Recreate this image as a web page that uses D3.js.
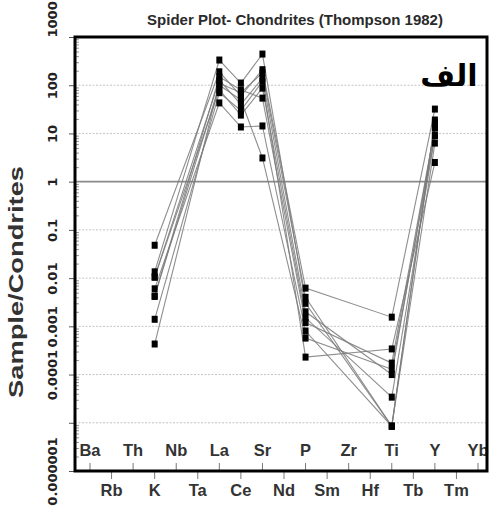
<!DOCTYPE html>
<html>
<head>
<meta charset="utf-8">
<script src="https://cdn.jsdelivr.net/npm/d3@7"></script>
<style>
  html, body { margin: 0; padding: 0; background: #fff; }
  svg { display: block; }
</style>
</head>
<body>
<svg id="chart" width="490" height="513"></svg>
<script>
// ---- data ----
const elements = ["Ba","Rb","Th","K","Nb","Ta","La","Ce","Sr","Nd","P","Sm","Zr","Hf","Ti","Tb","Y","Tm","Yb"];
const plotted  = ["K","La","Ce","Sr","P","Ti","Y"];
const sample1 = [0.048,   190, 60,   210, 0.0062,  0.00155,   32];
const sample2 = [0.0135,  333, 111,  443, 0.003,   0.0000085, 19];
const sample3 = [0.0105,  128, 40,   140, 0.002,   0.0001,    13];
const sample4 = [0.0105,  80,  24,   87,  0.0015,  0.000034,  9];
const sample5 = [0.006,   43,  13.6, 14.3,0.0008,  0.0000085, 6.3];
const sample6 = [0.0042,  150, 80,   54,  0.0012,  0.000173,  13];
const sample7 = [0.0042,  100, 50,   3.1, 0.00057, 0.000129,  9];
const sample8 = [0.0014,  70,  30,   120, 0.00023, 0.00034,   2.5];
const sample9 = [0.00043, 110, 70,   180, 0.004,   0.0000085, 17];
const samples = [sample1, sample2, sample3, sample4, sample5, sample6, sample7, sample8, sample9];
const yTickValues = [1000, 100, 10, 1, 0.1, 0.01, 0.001, 0.0001, 0.00001, 0.000001];
const yTickLabels = ["1000","100","10","1","0.1","0.01","0.001","0.0001","","0.000001"];
const titleText = "Spider Plot- Chondrites (Thompson 1982)";
const yTitle = "Sample/Condrites";
const panelLabel = "الف";

// ---- layout ----
const L = 75, R = 487, T = 37, B = 471;
const svg = d3.select("#chart");
const y = d3.scaleLog().domain([1e-6, 1000]).range([B, T]);
const x = d3.scalePoint().domain(elements).range([90, 478]);
const narrow = "'Liberation Sans Narrow', 'Arial Narrow', 'Liberation Sans', Arial, sans-serif";

// gridlines
svg.append("g").selectAll("line")
  .data(yTickValues.filter(v => v !== 1 && v !== 1000 && v !== 1e-6))
  .join("line")
  .attr("x1", L).attr("x2", R)
  .attr("y1", d => y(d)).attr("y2", d => y(d))
  .attr("stroke", "#c4c4c4").attr("stroke-width", 1)
  .attr("stroke-dasharray", "2,1.5");
svg.append("line")
  .attr("x1", L).attr("x2", R).attr("y1", y(1)).attr("y2", y(1))
  .attr("stroke", "#8a8a8a").attr("stroke-width", 1.6);

// minor ticks (inside)
const minor = [];
for (let e = -6; e < 3; e++) for (let m = 2; m <= 9; m++) minor.push(m * Math.pow(10, e));
svg.append("g").attr("transform", `translate(${L},0)`)
  .call(d3.axisRight(y).tickValues(minor).tickSize(4).tickFormat(""))
  .call(g => g.select(".domain").remove())
  .call(g => g.selectAll("line").attr("stroke", "#777").attr("stroke-width", 0.8));

// major ticks + labels
const yAxis = svg.append("g").attr("transform", `translate(${L},0)`)
  .call(d3.axisLeft(y).tickValues(yTickValues).tickSize(6).tickFormat((d, i) => yTickLabels[i]));
yAxis.select(".domain").remove();
yAxis.selectAll("line").attr("stroke", "#555").attr("stroke-width", 1);
yAxis.selectAll("text")
  .attr("x", null).attr("dy", null).attr("y", 0)
  .attr("transform", `translate(${57 - L},0) rotate(-90)`)
  .attr("text-anchor", d => d === 1000 ? "start" : "middle")
  .attr("font-family", "'DejaVu Sans', sans-serif")
  .attr("font-weight", "bold")
  .attr("font-size", 13)
  .attr("fill", "#222");

// x category ticks
const xg = svg.append("g");
xg.selectAll("line").data(elements).join("line")
  .attr("x1", d => x(d)).attr("x2", d => x(d))
  .attr("y1", B)
  .attr("y2", (d, i) => i % 2 === 0 ? B - 8 : B + 8)
  .attr("stroke", "#777").attr("stroke-width", 1);
xg.selectAll("text").data(elements).join("text")
  .attr("x", d => x(d))
  .attr("y", (d, i) => i % 2 === 0 ? 456 : 496)
  .attr("text-anchor", "middle")
  .attr("font-family", narrow)
  .attr("font-weight", "bold")
  .attr("font-size", 16.5)
  .attr("fill", "#333")
  .text(d => d);

// frame
svg.append("path")
  .attr("d", `M${L},${T}H${R}V${B}H${L}Z`)
  .attr("fill", "none").attr("stroke", "#000").attr("stroke-width", 3);

// sample lines
const line = d3.line().x(d => x(d[0])).y(d => y(d[1]));
svg.append("g").selectAll("path").data(samples).join("path")
  .attr("d", s => line(plotted.map((el, i) => [el, s[i]]).filter(p => p[1] != null)))
  .attr("fill", "none").attr("stroke", "#7a7a7a").attr("stroke-width", 1.1).attr("stroke-opacity", 0.85);

// markers
const pts = [];
samples.forEach(s => plotted.forEach((el, i) => { if (s[i] != null) pts.push([el, s[i]]); }));
svg.append("g").selectAll("rect").data(pts).join("rect")
  .attr("x", d => x(d[0]) - 3).attr("y", d => y(d[1]) - 3.5)
  .attr("width", 6).attr("height", 7).attr("fill", "#000");

// title
svg.append("text")
  .attr("x", 295).attr("y", 25).attr("text-anchor", "middle")
  .attr("font-family", narrow).attr("font-weight", "bold").attr("font-size", 15)
  .attr("fill", "#2a2a2a").text(titleText);

// y title
svg.append("text")
  .attr("transform", `translate(23,282) rotate(-90)`)
  .attr("text-anchor", "middle")
  .attr("font-family", "'Liberation Sans', Arial, sans-serif").attr("font-weight", "bold")
  .attr("font-size", 21).attr("fill", "#333")
  .attr("textLength", 232).attr("lengthAdjust", "spacingAndGlyphs")
  .text(yTitle);

// panel label
svg.append("text")
  .attr("x", 449).attr("y", 86).attr("text-anchor", "middle")
  .attr("font-family", "'DejaVu Sans', sans-serif").attr("font-weight", "bold")
  .attr("font-size", 30).attr("fill", "#000")
  .text(panelLabel);
</script>
</body>
</html>
